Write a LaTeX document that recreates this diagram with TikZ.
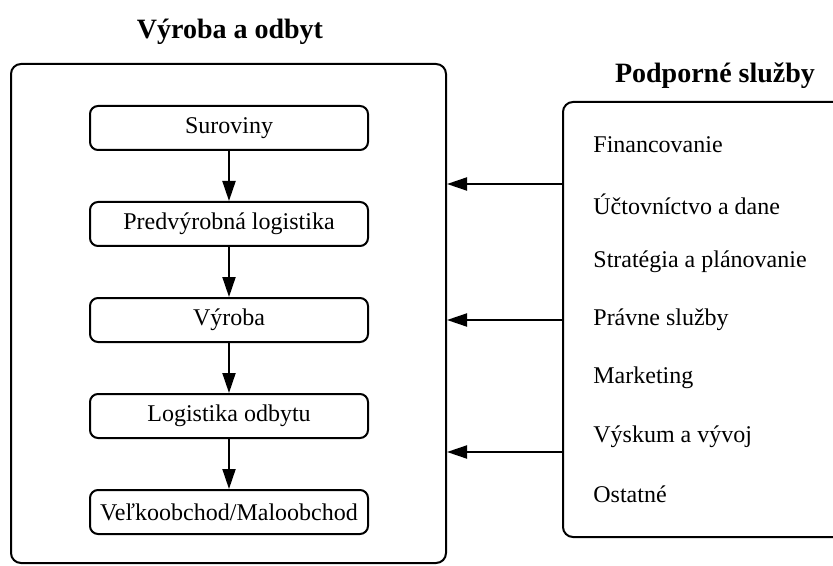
\documentclass[tikz,border=0pt]{standalone}
\usepackage{fontspec}
\setmainfont{Liberation Serif}
\usetikzlibrary{arrows.meta, positioning}
\tikzset{
    block/.style={rectangle, draw, line width=1pt, rounded corners=4pt, minimum width=139pt, minimum height=22pt, inner sep=0pt, align=center, font=\fontsize{12}{14}\selectfont},
    frame/.style={rectangle, draw, line width=1pt, rounded corners=5pt, inner sep=0pt},
    heading/.style={font=\fontsize{14}{16}\selectfont\bfseries},
    item/.style={anchor=west, inner sep=0pt, font=\fontsize{12}{14}\selectfont},
    arrow/.style={line width=1pt, -{Triangle[length=10pt, width=6.5pt]}}
}

\begin{document}
\begin{tikzpicture}[x=0.5pt, y=-0.5pt, node distance=25pt]
            \useasboundingbox (0,0) rectangle (833,566);
            \clip (0,0) rectangle (833,566);

            % production chain
            \node[heading] (prodtitle) at (230,32) {Výroba a odbyt};
            \node[frame, minimum width=217.5pt, minimum height=249.5pt] (prod) at (228.5,313.5) {};
            \node[block] (raw) at (229,128) {Suroviny};
            \node[block, below=of raw] (inlog) {Predvýrobná logistika};
            \node[block, below=of inlog] (make) {Výroba};
            \node[block, below=of make] (outlog) {Logistika odbytu};
            \node[block, below=of outlog] (trade) {Veľkoobchod/Maloobchod};

            \draw[arrow] (raw) -- (inlog);
            \draw[arrow] (inlog) -- (make);
            \draw[arrow] (make) -- (outlog);
            \draw[arrow] (outlog) -- (trade);

            % support services
            \node[heading] (supptitle) at (715,76) {Podporné služby};
            \node[frame, minimum width=143.5pt, minimum height=217.5pt] (supp) at (706.5,319.5) {};
            \node[item] (fin) at (593,145) {Financovanie};
            \node[item] (acc) at (593,204) {Účtovníctvo a dane};
            \node[item] (plan) at (593,262) {Stratégia a plánovanie};
            \node[item] (law) at (593,320) {Právne služby};
            \node[item] (mkt) at (593,378) {Marketing};
            \node[item] (rnd) at (593,437) {Výskum a vývoj};
            \node[item] (other) at (593,494) {Ostatné};

            \draw[arrow] (supp.west |- 0,184) -- (prod.east |- 0,184);
            \draw[arrow] (supp.west |- 0,320) -- (prod.east |- 0,320);
            \draw[arrow] (supp.west |- 0,452) -- (prod.east |- 0,452);
        \end{tikzpicture}
\end{document}
